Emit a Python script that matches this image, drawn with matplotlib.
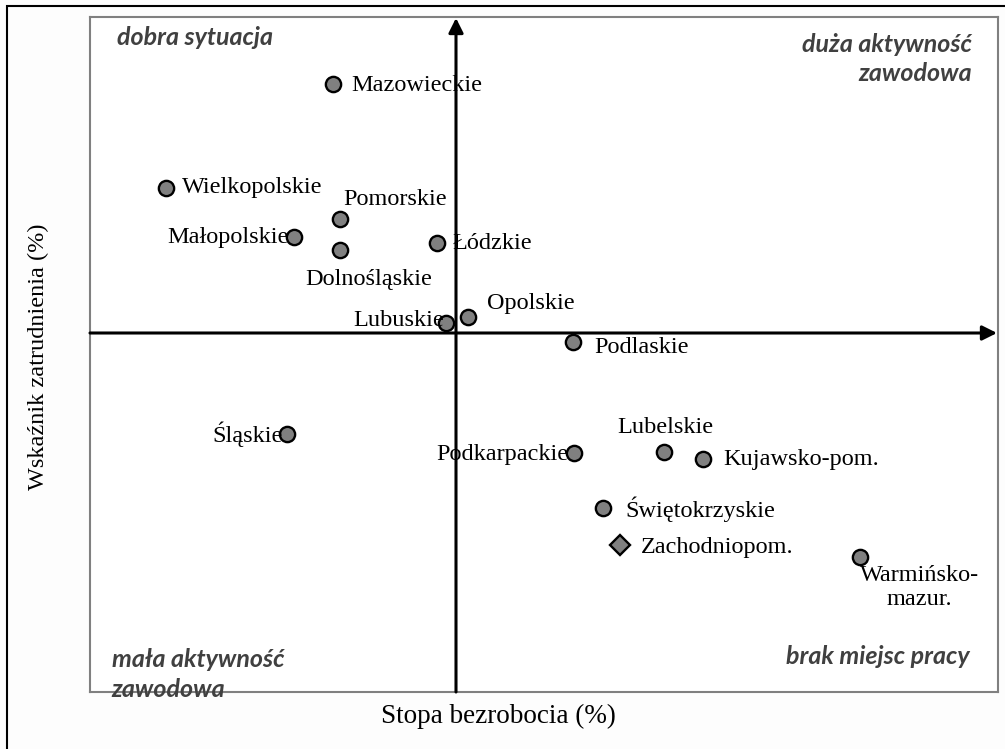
import matplotlib.pyplot as plt
from matplotlib.patches import Rectangle

# odchylenia od średniej krajowej (przybliżone)
regions = ['Mazowieckie', 'Wielkopolskie', 'Pomorskie', 'Małopolskie',
           'Dolnośląskie', 'Łódzkie', 'Opolskie', 'Lubuskie', 'Podlaskie',
           'Śląskie', 'Podkarpackie', 'Lubelskie', 'Kujawsko-pom.',
           'Świętokrzyskie', 'Zachodniopom.', 'Warmińsko-\nmazur.']
unemployment = [-12.3, -29.0, -11.6, -16.2, -11.6, -1.9, 1.2, -1.0, 11.7,
                -16.9, 11.8, 20.8, 24.7, 14.7, 16.4, 40.4]
employment = [24.9, 14.5, 11.4, 9.6, 8.3, 9.0, 1.6, 1.0, -0.9,
              -10.1, -12.0, -11.9, -12.6, -17.5, -21.2, -22.4]
markers = ['o'] * 14 + ['D', 'o']

# label placement: (dx, dy) in points, ha, va
label_pos = [
    (13.5, -1, 'left', 'center'),
    (11.5, 0, 'left', 'center'),
    (40, 14, 'center', 'center'),
    (-4, 0, 'right', 'center'),
    (21, -21, 'center', 'center'),
    (11.5, 0, 'left', 'center'),
    (14, 10, 'left', 'center'),
    (-1.5, 1.5, 'right', 'center'),
    (15, -3.6, 'left', 'center'),
    (-3, 0, 'right', 'center'),
    (-4, -1.4, 'right', 'center'),
    (1, 18, 'center', 'center'),
    (14.4, 0, 'left', 'center'),
    (16, -0.7, 'left', 'center'),
    (15, -2, 'left', 'center'),
    (0, -6, 'left', 'top'),
]

quadrants = ['dobra sytuacja', 'duża aktywność\nzawodowa',
             'mała aktywność\nzawodowa', 'brak miejsc pracy']

fig = plt.figure(figsize=(10.05, 7.49), dpi=100)
ax = fig.add_axes([90 / 1005, 57 / 749, 908 / 1005, 675 / 749])
ax.set_xlim(-36.6, 54.2)
ax.set_ylim(-35.9, 31.6)
ax.set_xticks([])
ax.set_yticks([])
for s in ax.spines.values():
    s.set_color('#808080')
    s.set_linewidth(1.5)

# outer frame
fig.patches.append(Rectangle((7 / 1005, -0.02), 1.05, 1.0 - 6 / 749 + 0.02,
                             transform=fig.transFigure, fill=False,
                             edgecolor='black', linewidth=1.5))

# axes arrows
ax.annotate('', xy=(54.1, 0), xytext=(-36.6, 0),
            arrowprops=dict(arrowstyle='-|>', color='black', lw=2.2,
                            mutation_scale=22, shrinkA=0, shrinkB=0))
ax.annotate('', xy=(0, 31.5), xytext=(0, -35.9),
            arrowprops=dict(arrowstyle='-|>', color='black', lw=2.2,
                            mutation_scale=22, shrinkA=0, shrinkB=0))

serif = 'Liberation Serif'
for name, x, y, m, (dx, dy, ha, va) in zip(regions, unemployment, employment,
                                           markers, label_pos):
    ax.plot(x, y, marker=m, markersize=11 if m == 'o' else 10,
            markerfacecolor='#808080', markeredgecolor='black',
            markeredgewidth=1.7, linestyle='none', zorder=3)
    ax.annotate(name, (x, y), xytext=(dx, dy), textcoords='offset points',
                ha=ha, va=va, fontsize=17.5, family=serif,
                multialignment='center', linespacing=1.15, zorder=4)

qfont = dict(family='Lato', fontsize=18, fontweight='bold', style='italic',
             color='#404040')
ax.text(0.0297, 0.970, quadrants[0], transform=ax.transAxes, ha='left', va='center', **qfont)
ax.text(0.971, 0.938, quadrants[1], transform=ax.transAxes, ha='right', va='center',
        multialignment='right', linespacing=1.3, **qfont)
ax.text(0.024, 0.026, quadrants[2], transform=ax.transAxes, ha='left', va='center',
        multialignment='left', linespacing=1.4, **qfont)
ax.text(0.969, 0.052, quadrants[3], transform=ax.transAxes, ha='right', va='center', **qfont)

fig.text(498 / 1005, 1 - 716 / 749, 'Stopa bezrobocia (%)', ha='center', va='center',
         fontsize=19.5, family=serif)
fig.text(38 / 1005, 1 - 357 / 749, 'Wskaźnik zatrudnienia (%)', ha='center',
         va='center', rotation=90, fontsize=17.5, family=serif)

fig.savefig('out.png', dpi=100, facecolor='#fdfdfd')
